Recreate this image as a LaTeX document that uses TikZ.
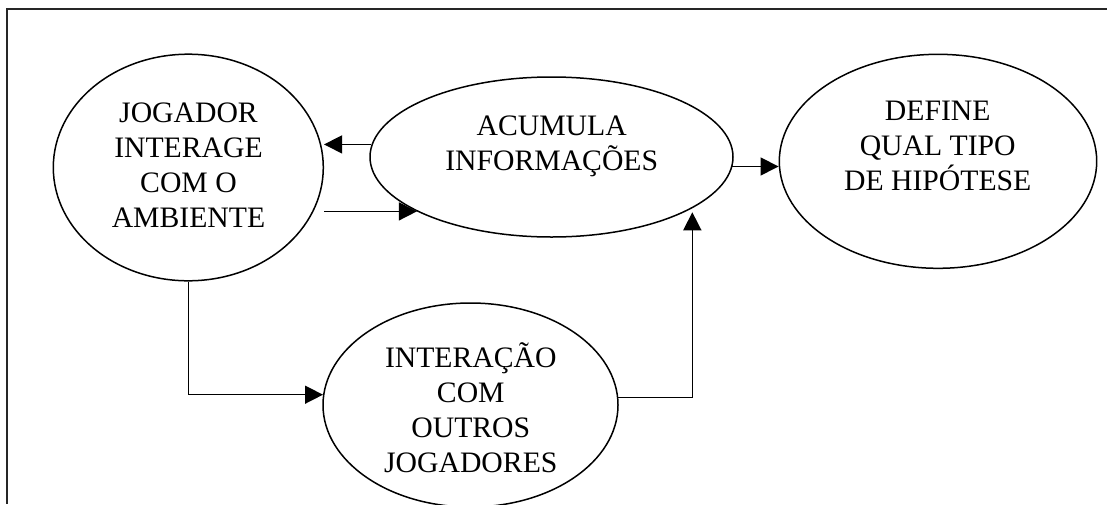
\documentclass[tikz,border=0pt]{standalone}
\usepackage{fontspec}
\setmainfont{Liberation Serif}
\usetikzlibrary{arrows.meta,shapes.geometric}
\newcommand{\ptxt}[1]{\begin{tabular}[t]{@{}c@{}}#1\end{tabular}}
\begin{document}
\begin{tikzpicture}[x=1pt,y=-1pt,
  oval/.style={ellipse, draw, line width=1.5pt, inner sep=0pt},
  txt/.style={anchor=base, inner sep=0pt, font=\fontsize{29.7}{35}\selectfont},
  arr/.style={line width=1.5pt, -{Triangle[length=18pt 0 0,width=18pt 0 0]}},
  frame/.style={line width=2pt, black!85}
]
\useasboundingbox (0,0) rectangle (1107,504);
\draw[frame] (1107,9) -- (7.3,9) -- (7.3,504);

\node[oval, minimum width=270pt, minimum height=226.6pt] (J) at (188.3,167.5) {};
\node[oval, minimum width=363pt, minimum height=160pt] (A) at (551.5,157) {};
\node[oval, minimum width=317.4pt, minimum height=214pt] (D) at (938,161.3) {};
\node[oval, minimum width=295pt, minimum height=204pt] (I) at (470.5,405) {};

\node[txt] (tJ) at (188.5,122) {\ptxt{JOGADOR\\INTERAGE\\COM O\\AMBIENTE}};
\node[txt] (tA) at (551.7,135) {\ptxt{ACUMULA\\INFORMAÇÕES}};
\node[txt] (tD) at (937.7,120) {\ptxt{DEFINE\\QUAL TIPO\\DE HIPÓTESE}};
\node[txt] (tI) at (470.8,367) {\ptxt{INTERAÇÃO\\COM\\OUTROS\\JOGADORES}};

\draw[arr] (A.176) -- (J.east |- A.176);
\draw[arr] (J.east |- A.202) -- (A.202);
\draw[arr] (A.-3.5) -- (D.west |- A.-3.5);
\draw[arr] (J.south) |- (I.176);
\draw[arr, shorten >=4pt] (I.3.9) -| (A.-20.8);
\end{tikzpicture}
\end{document}
